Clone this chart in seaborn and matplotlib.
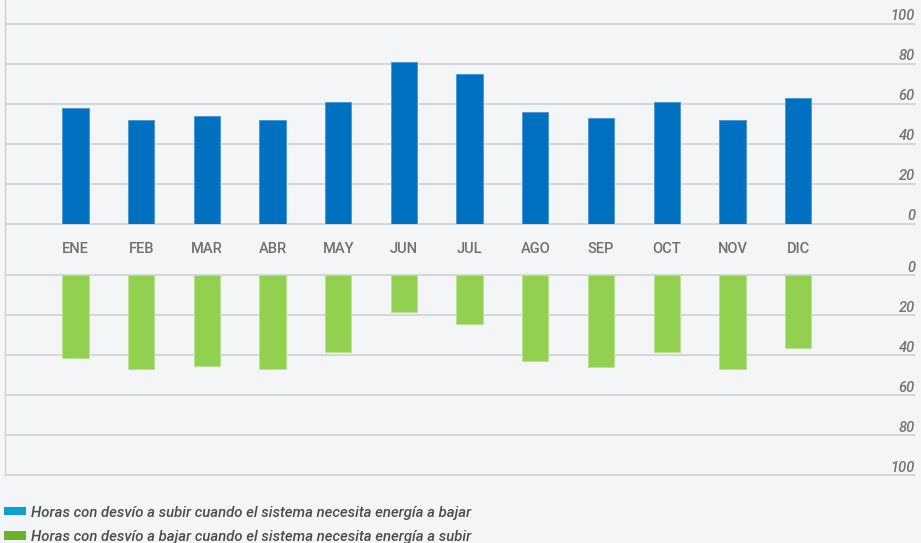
import matplotlib
matplotlib.use("Agg")
import matplotlib.pyplot as plt
import matplotlib.transforms as mtransforms
from matplotlib.lines import Line2D
from matplotlib.patches import Patch
import seaborn as sns
import pandas as pd

# ---- data ----
months = ["ENE", "FEB", "MAR", "ABR", "MAY", "JUN", "JUL", "AGO", "SEP", "OCT", "NOV", "DIC"]
horas_subir = [58, 52, 54, 52, 61, 81, 75, 55.8, 53, 61, 52, 63]
horas_bajar = [41.5, 47.3, 45.5, 47.3, 38.5, 18.7, 24.5, 43.3, 46.3, 38.5, 47.3, 36.5]
tick_values = [0, 20, 40, 60, 80, 100]
legend_labels = [
    "Horas con desvío a subir cuando el sistema necesita energía a bajar",
    "Horas con desvío a bajar cuando el sistema necesita energía a subir",
]

df = pd.DataFrame({"mes": months, "subir": horas_subir, "bajar": horas_bajar})

BG = "#F4F5F7"
BLUE = "#0070C0"
GREEN = "#92D050"
GRID = "#CDCDCF"

sns.set_theme(style="white")
plt.rcParams["font.family"] = ["Roboto", "DejaVu Sans"]

W, H = 921, 543
fig = plt.figure(figsize=(W / 100, H / 100), dpi=100, facecolor=BG)

def fig_rect(x0, y0, x1, y1):
    return [x0 / W, 1 - y1 / H, (x1 - x0) / W, (y1 - y0) / H]

ax_top = fig.add_axes(fig_rect(5, 23.5, 915, 223.5))
ax_bot = fig.add_axes(fig_rect(5, 274.7, 915, 474.7))

xlim = (-1.073, 12.78)

sns.barplot(data=df, x="mes", y="subir", ax=ax_top, color=BLUE, width=0.4,
            saturation=1, edgecolor="#4f98d6", linewidth=0.7, zorder=3)
sns.barplot(data=df, x="mes", y="bajar", ax=ax_bot, color=GREEN, width=0.4,
            saturation=1, edgecolor="#b8e38f", linewidth=0.7, zorder=3)

for ax, inverted in ((ax_top, False), (ax_bot, True)):
    ax.set_facecolor("none")
    ax.set_xlim(*xlim)
    if inverted:
        ax.set_ylim(100, 0)
    else:
        ax.set_ylim(0, 100)
    for s in ax.spines.values():
        s.set_visible(False)
    ax.set_xlabel("")
    ax.set_ylabel("")
    ax.set_yticks([])
    for v in tick_values:
        ax.axhline(v, color=GRID, lw=1.1, zorder=1, clip_on=False)
        trans = mtransforms.offset_copy(ax.get_yaxis_transform(), fig=fig, x=0, y=3, units="dots")
        ax.text(1.0, v, str(v), transform=trans, ha="right", va="baseline",
                fontsize=10.5, fontstyle="italic", fontweight="medium", color="#747476")

ax_top.tick_params(axis="x", length=0, pad=13, labelsize=10.5, labelcolor="#707072")
for t in ax_top.get_xticklabels():
    t.set_fontweight("medium")
ax_bot.set_xticks([])

# left vertical line
fig.add_artist(Line2D([5.3 / W, 5.3 / W], [1 - 475 / H, 1.0], color="#E6C6D8", lw=1.0))

# legend
handles = [Patch(facecolor="#0AA0D0", edgecolor="none"),
           Patch(facecolor="#6DB12F", edgecolor="none")]
leg = fig.legend(handles, legend_labels, loc="upper left",
                 bbox_to_anchor=(4 / W, 1 - 505.5 / H), frameon=False,
                 prop={"size": 10.7, "style": "italic", "weight": "medium"},
                 handlelength=1.45, handleheight=0.5, handletextpad=0.35,
                 labelspacing=0.68, borderpad=0, borderaxespad=0)
for t in leg.get_texts():
    t.set_color("#4c4c4e")

fig.savefig("out.png", dpi=100, facecolor=BG)
